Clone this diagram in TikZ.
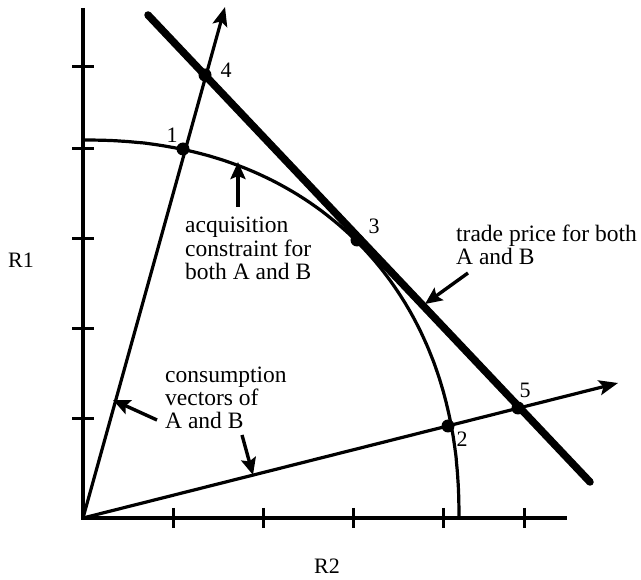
\documentclass[tikz,border=0pt]{standalone}
\usepackage{fontspec}
\setmainfont{Liberation Serif}
\usetikzlibrary{arrows.meta}
\begin{document}
\begin{tikzpicture}[x=1pt,y=-1pt,
  ln/.style={line width=3.2pt},
  tk/.style={line width=3pt},
  raytip/.style={-{Stealth[length=19pt,width=15pt,inset=4pt]}},
  notetip/.style={line width=3.4pt,-{Stealth[length=17pt,width=15pt,inset=3pt]}},
  dotn/.style={circle,fill=black,inner sep=0pt,minimum size=13pt},
  lbl/.style={font=\fontsize{22}{23}\selectfont, inner sep=0pt},
  txt/.style={font=\fontsize{23.5}{23.5}\selectfont, inner sep=0pt, align=left, anchor=base west}]
\useasboundingbox (0,0) rectangle (641,580);
% axes
\coordinate (O) at (83,518);
\coordinate (ytop) at (83,8);
\coordinate (xend) at (567,518);
\draw[ln] (ytop) -- (O) -- (xend);
\foreach \y in {419,329,239,149,67} \draw[tk] (72,\y) -- (94,\y);
\foreach \x in {173,263,353,443,524} \draw[tk] (\x,508) -- (\x,528);
% acquisition constraint curve
\draw[ln] plot[domain=0.05:89.95, samples=120, smooth]
  ({83+376*pow(cos(\x),0.909)}, {518-378*pow(sin(\x),0.909)});
% consumption rays
\coordinate (t1) at (225,7);
\coordinate (t2) at (618,383);
\draw[ln,raytip] (O) -- (t1);
\draw[ln,raytip] (O) -- (t2);
% trade price line
\coordinate (ta) at (148,15);
\coordinate (tb) at (590,482);
\draw[line width=7.5pt, line cap=round] (ta) -- (tb);
% points
\node[dotn] (p1) at (183,149) {};
\node[dotn] (p4) at (205,75) {};
\node[dotn] (p3) at (357,240) {};
\node[dotn] (p2) at (448,426) {};
\node[dotn] (p5) at (518,408) {};
\node[lbl] (n1) at (172,135) {1};
\node[lbl] (n4) at (226,70) {4};
\node[lbl] (n3) at (374,226) {3};
\node[lbl] (n5) at (525,390) {5};
\node[lbl] (n2) at (462,439) {2};
% axis labels
\node[lbl] (r1) at (21,260) {R1};
\node[lbl] (r2) at (327,566) {R2};
% notes (base anchor = last line)
\node[txt] (acq) at (185,280) {acquisition\\constraint for\\both A and B};
\node[txt] (trade) at (456,265) {trade price for both\\A and B};
\node[txt] (cons) at (165,429) {consumption\\vectors of\\A and B};
\coordinate (a1s) at (238,207); \coordinate (a1e) at (238,162);
\draw[notetip] (a1s) -- (a1e);
\coordinate (a2s) at (468,273); \coordinate (a2e) at (425,304);
\draw[notetip] (a2s) -- (a2e);
\coordinate (a3s) at (157,420); \coordinate (a3e) at (113,400);
\draw[notetip] (a3s) -- (a3e);
\coordinate (a4s) at (242,435); \coordinate (a4e) at (253,475);
\draw[notetip] (a4s) -- (a4e);
\end{tikzpicture}
\end{document}
